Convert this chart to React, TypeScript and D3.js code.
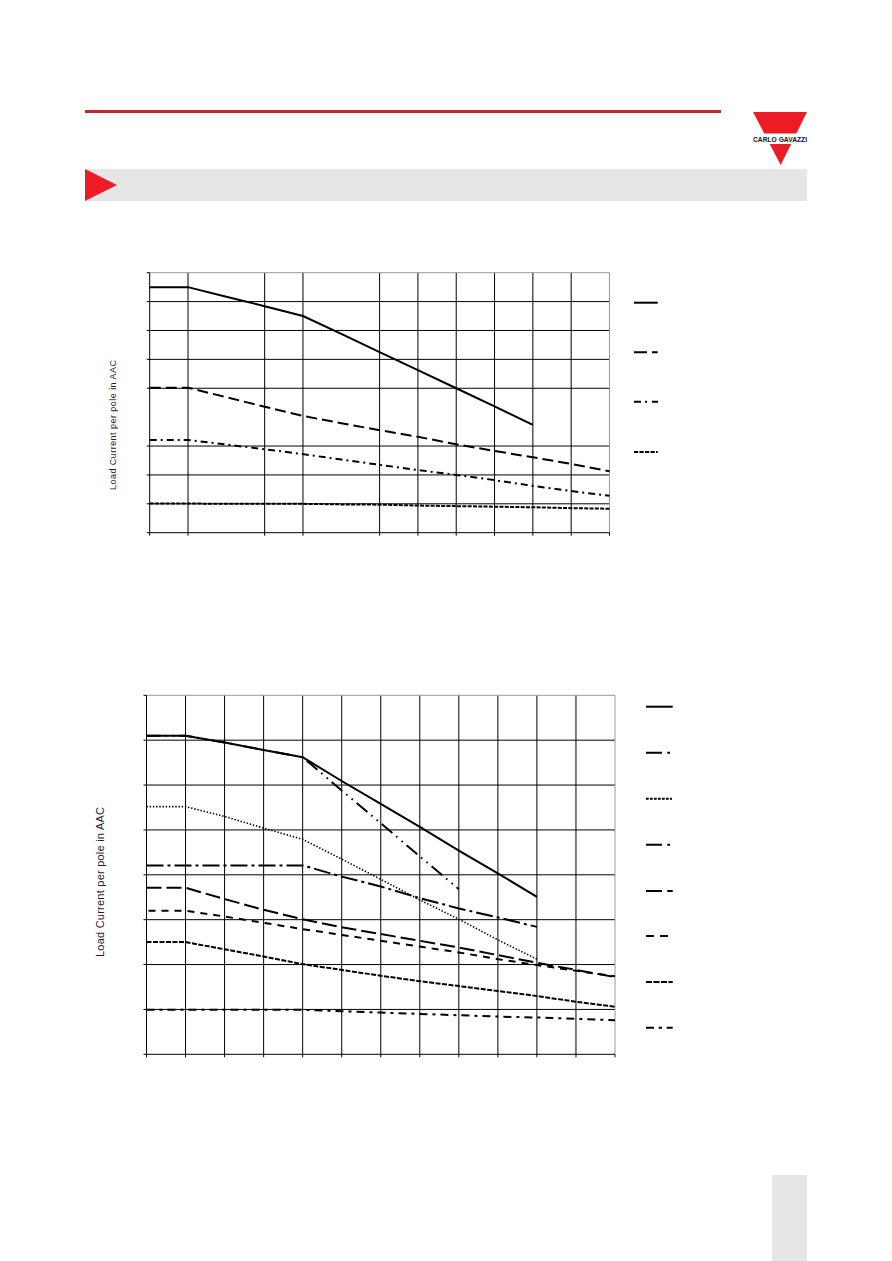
import React from "react";
import * as d3 from "d3";

// ---------- data ----------
const categories = [0, 1, 2, 3, 4, 5, 6, 7, 8, 9, 10, 11, 12];

// chart 1 (upper)
const chart1XTicks = [0, 1, 3, 4, 6, 7, 8, 9, 10, 11, 12];
const chart1YGrid = [1, 2, 3, 5, 6, 7, 8];
const chart1YTicks = [0, 1, 2, 3, 5, 6, 7, 8, 9];
const chart1YMax = 9;
const chart1Solid = [8.5, 8.5, 8.17, 7.84, 7.5, 6.88, 6.25, 5.63, 5.0, 4.37, 3.73];
const chart1Dashed = [5.02, 5.02, 4.69, 4.36, 4.04, 3.79, 3.55, 3.32, 3.06, 2.83, 2.61, 2.38, 2.13];
const chart1DashDot = [3.21, 3.21, 3.05, 2.89, 2.72, 2.53, 2.35, 2.17, 2.0, 1.82, 1.62, 1.44, 1.28];
const chart1ShortDash = [1.01, 1.01, 1.0, 1.0, 1.0, 0.98, 0.97, 0.94, 0.92, 0.9, 0.88, 0.85, 0.83];

// chart 2 (lower)
const chart2XTicks = [0, 1, 2, 3, 4, 5, 6, 7, 8, 9, 10, 11, 12];
const chart2YGrid = [1, 2, 3, 4, 5, 6, 7];
const chart2YTicks = [0, 1, 2, 3, 4, 5, 6, 7, 8];
const chart2YMax = 8;
const chart2S1 = [7.1, 7.1, 6.95, 6.78, 6.62, 6.09, 5.58, 5.07, 4.54, 4.03, 3.51];
const chart2S2 = [7.1, 7.1, 6.95, 6.78, 6.62, 5.88, 5.15, 4.41, 3.68];
const chart2S3 = [5.52, 5.52, 5.3, 5.04, 4.79, 4.35, 3.9, 3.44, 3.01, 2.55, 2.12];
const chart2S4 = [4.21, 4.21, 4.21, 4.21, 4.21, 3.96, 3.74, 3.48, 3.25, 3.05, 2.84];
const chart2S5 = [3.71, 3.71, 3.46, 3.22, 3.01, 2.83, 2.68, 2.53, 2.38, 2.21, 2.04, 1.88, 1.72];
const chart2S6 = [3.2, 3.2, 3.07, 2.93, 2.79, 2.66, 2.53, 2.4, 2.27, 2.12, 1.99, 1.86, 1.74];
const chart2S7 = [2.5, 2.5, 2.34, 2.18, 2.01, 1.88, 1.75, 1.63, 1.52, 1.41, 1.3, 1.17, 1.06];
const chart2S8 = [0.99, 0.99, 0.99, 0.99, 0.99, 0.96, 0.93, 0.9, 0.87, 0.84, 0.82, 0.79, 0.76];

const axisTitle = "Load Current per pole in AAC";
const brandName = "CARLO GAVAZZI";

// ---------- styles ----------
type Series = { values: number[]; dash: string; width: number; offset?: number };
type LegendItem = { dash: string; width: number; len: number };

const chart1Series: Series[] = [
  { values: chart1ShortDash, dash: "4,1.3", width: 2 },
  { values: chart1DashDot, dash: "7,4,2,4", width: 2 },
  { values: chart1Dashed, dash: "11,5", width: 2 },
  { values: chart1Solid, dash: "none", width: 2 },
];
const chart1Legend: LegendItem[] = [
  { dash: "none", width: 2, len: 23.7 },
  { dash: "13,5,5.7,20", width: 2, len: 23.7 },
  { dash: "7,4,2,5,6,20", width: 2, len: 24 },
  { dash: "4.2,1.3", width: 2, len: 23.7 },
];

const chart2Series: Series[] = [
  { values: chart2S8, dash: "8,5,3,5", width: 2 },
  { values: chart2S7, dash: "5,1.5", width: 2 },
  { values: chart2S6, dash: "7,6", width: 2, offset: 11 },
  { values: chart2S5, dash: "15,5", width: 2 },
  { values: chart2S4, dash: "17,4,3,4", width: 2 },
  { values: chart2S3, dash: "1.4,1.8", width: 1.6 },
  { values: chart2S2, dash: "14,5,1.6,5.5,1.6,5", width: 2 },
  { values: chart2S1, dash: "none", width: 2 },
];
const chart2Legend: LegendItem[] = [
  { dash: "none", width: 2, len: 26.7 },
  { dash: "16,5.3,2.7,20", width: 2, len: 24 },
  { dash: "2.7,1.3", width: 2, len: 26 },
  { dash: "16,5.3,2.7,20", width: 2, len: 24 },
  { dash: "16,5.3,5.4,20", width: 2, len: 26.7 },
  { dash: "8,6,8,20", width: 2, len: 22 },
  { dash: "6,1.5", width: 2, len: 26.7 },
  { dash: "8,4.7,3.3,4.7,6,20", width: 2, len: 26.7 },
];

type Frame = { left: number; right: number; top: number; bottom: number };

function Chart(props: {
  frame: Frame;
  xTicks: number[];
  yGrid: number[];
  yTicks: number[];
  yMax: number;
  series: Series[];
  legend: LegendItem[];
  legendX: number;
  legendY: number[];
  titleX: number;
  titleY: number;
  titleSize: number;
  titleLen: number;
}) {
  const { frame, xTicks, yGrid, yTicks, yMax, series, legend, legendX, legendY } = props;
  const x = d3
    .scaleLinear()
    .domain([categories[0], categories[categories.length - 1]])
    .range([frame.left, frame.right]);
  const y = d3.scaleLinear().domain([0, yMax]).range([frame.bottom, frame.top]);
  const line = d3
    .line<number>()
    .x((_, i) => x(categories[i]))
    .y((d) => y(d));
  const gray = "#9a9a9a";
  return (
    <g>
      {yGrid.map((v) => (
        <line key={"hg" + v} x1={frame.left} x2={frame.right} y1={y(v)} y2={y(v)} stroke="#000" strokeWidth={1} />
      ))}
      {xTicks
        .filter((t) => t !== categories[0] && t !== categories[categories.length - 1])
        .map((t) => (
          <line key={"vg" + t} x1={x(t)} x2={x(t)} y1={frame.top} y2={frame.bottom} stroke="#000" strokeWidth={1} />
        ))}
      <line x1={frame.left} x2={frame.right} y1={frame.top} y2={frame.top} stroke={gray} strokeWidth={1} />
      <line x1={frame.right} x2={frame.right} y1={frame.top} y2={frame.bottom} stroke={gray} strokeWidth={1} />
      <line x1={frame.left} x2={frame.left} y1={frame.top} y2={frame.bottom} stroke="#000" strokeWidth={1} />
      <line x1={frame.left} x2={frame.right} y1={frame.bottom} y2={frame.bottom} stroke="#000" strokeWidth={1} />
      {yTicks.map((v) => (
        <line key={"yt" + v} x1={frame.left - 3} x2={frame.left} y1={y(v)} y2={y(v)} stroke="#000" strokeWidth={1} />
      ))}
      {xTicks.map((t) => (
        <line key={"xt" + t} x1={x(t)} x2={x(t)} y1={frame.bottom} y2={frame.bottom + 3} stroke="#000" strokeWidth={1} />
      ))}
      {series.map((s, i) => (
        <path
          key={"s" + i}
          d={line(s.values) || ""}
          fill="none"
          stroke="#000"
          strokeWidth={s.width}
          strokeDasharray={s.dash}
          strokeDashoffset={s.offset || 0}
        />
      ))}
      {legend.map((l, i) => (
        <line
          key={"lg" + i}
          x1={legendX}
          x2={legendX + l.len}
          y1={legendY[i]}
          y2={legendY[i]}
          stroke="#000"
          strokeWidth={l.width}
          strokeDasharray={l.dash}
        />
      ))}
      <text
        transform={`translate(${props.titleX},${props.titleY}) rotate(-90)`}
        textAnchor="middle"
        fontFamily="Liberation Sans, Arial, sans-serif"
        fontSize={props.titleSize}
        fill="#222"
        textLength={props.titleLen}
        lengthAdjust="spacing"
      >
        {axisTitle}
      </text>
    </g>
  );
}

export default function App() {
  const W = 892;
  const H = 1261;
  const red = "#ed1c24";
  return (
    <div style={{ position: "absolute", left: 0, top: 0 }}>
      <svg width={W} height={H} style={{ display: "block", background: "#fff" }}>
        <rect x={85} y={110} width={636} height={3} fill="#c1272d" />
        <polygon points="753,112 807,112 780.7,165" fill={red} />
        <rect x={750} y={133.5} width={60} height={10.5} fill="#fff" />
        <text
          x={780}
          y={141.6}
          textAnchor="middle"
          fontFamily="Liberation Sans Narrow, Liberation Sans, Arial, sans-serif"
          fontWeight="bold"
          fontSize={8}
          fill="#111"
          textLength={54}
          lengthAdjust="spacingAndGlyphs"
        >
          {brandName}
        </text>
        <rect x={85} y={169} width={722} height={32} fill="#e6e6e6" />
        <polygon points="85,169 85,201 117,185" fill={red} />

        <Chart
          frame={{ left: 149.7, right: 609.5, top: 272.7, bottom: 532.7 }}
          xTicks={chart1XTicks}
          yGrid={chart1YGrid}
          yTicks={chart1YTicks}
          yMax={chart1YMax}
          series={chart1Series}
          legend={chart1Legend}
          legendX={634}
          legendY={[302.7, 352.3, 401.7, 452]}
          titleX={115.5}
          titleY={425}
          titleSize={9}
          titleLen={130}
        />
        <Chart
          frame={{ left: 146.5, right: 615, top: 695.3, bottom: 1054.3 }}
          xTicks={chart2XTicks}
          yGrid={chart2YGrid}
          yTicks={chart2YTicks}
          yMax={chart2YMax}
          series={chart2Series}
          legend={chart2Legend}
          legendX={646}
          legendY={[706.7, 752.7, 798.7, 844.7, 891, 936, 982, 1027.7]}
          titleX={104}
          titleY={882}
          titleSize={11}
          titleLen={150}
        />

        <rect x={772} y={1175} width={35} height={86} fill="#e6e6e6" />
      </svg>
    </div>
  );
}
